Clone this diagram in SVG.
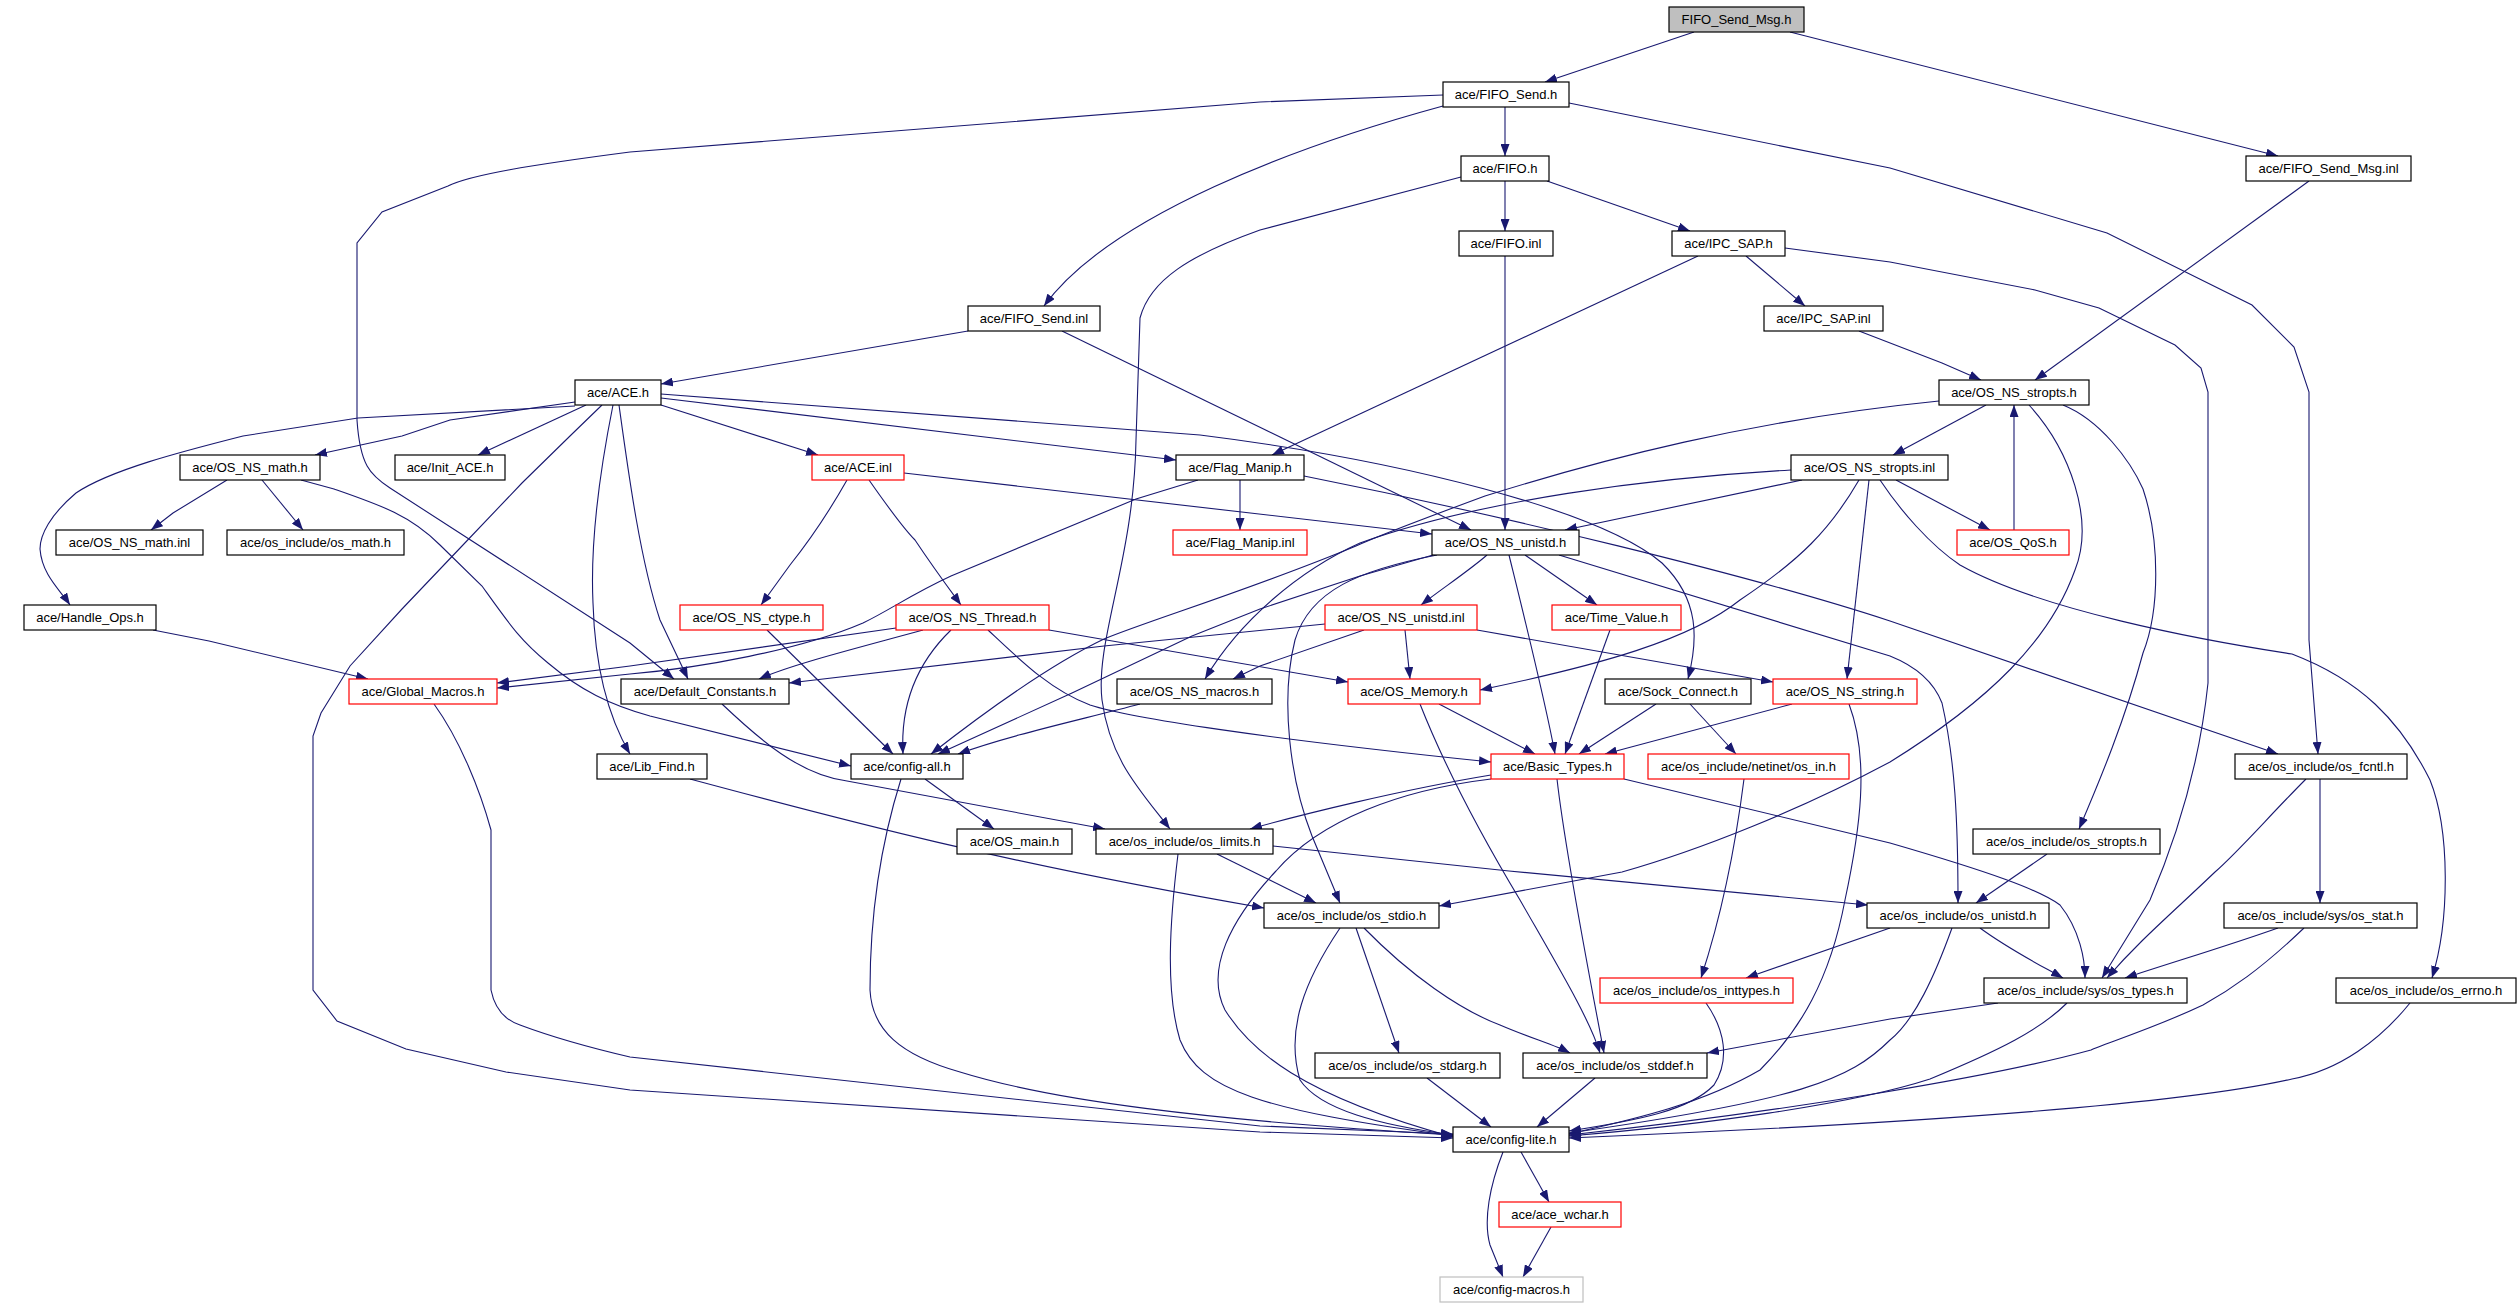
<svg xmlns="http://www.w3.org/2000/svg" width="2520" height="1307" viewBox="0 0 2520 1307">
<defs>
<marker id="a" markerWidth="12" markerHeight="9" refX="12" refY="4.5" orient="auto" markerUnits="userSpaceOnUse"><path d="M0,0 L12,4.5 L0,9 z" fill="#191970"/></marker>
<style>
.e path{fill:none;stroke:#191970;stroke-width:1.1;marker-end:url(#a)}
.n rect{fill:#fff;stroke:#000;stroke-width:1.2}
.n.r rect{stroke:#f00}
.n.g rect{stroke:#bfbfbf}
.n.root rect{fill:#bfbfbf}
.n text{font-family:"Liberation Sans",Arial,sans-serif;font-size:13px;text-anchor:middle;fill:#000}
</style>
</defs>
<rect width="2520" height="1307" fill="#fff"/>
<g class="e" id="edges">
<path d="M1694,32 L1545,82"/>
<path d="M1790,32 L2278,156"/>
<path d="M1505,107 L1505,156"/>
<path d="M1443,106 C1300,145 1110,215 1044,306"/>
<path d="M1443,95 L1260,102 L630,152 C530,165 470,175 448,186 L382,212 L357,243 L357,420 C360,465 370,475 390,488 L630,643 L674,679"/>
<path d="M1569,103 L1890,168 L2107,233 L2252,305 L2294,347 L2309,392 L2309,640 L2318,754"/>
<path d="M1505,181 L1505,231"/>
<path d="M1547,181 L1690,231"/>
<path d="M1461,177 L1260,230 C1190,255 1150,280 1140,318 L1136,440 C1134,560 1095,640 1102,700 C1110,760 1140,790 1170,829"/>
<path d="M1505,256 L1505,530"/>
<path d="M1746,256 L1805,306"/>
<path d="M1698,256 L1272,455"/>
<path d="M1785,248 L1890,262 L2035,290 L2099,308 L2175,345 L2201,368 L2208,392 L2208,683 C2200,760 2180,830 2150,900 L2102,978"/>
<path d="M1859,331 L1942,363 L1981,380"/>
<path d="M2309,181 L2035,380"/>
<path d="M968,331 L661,384"/>
<path d="M1062,331 L1471,530"/>
<path d="M575,402 L450,420 L402,436 L315,455"/>
<path d="M586,405 L478,455"/>
<path d="M661,405 L818,455"/>
<path d="M661,398 L1176,460"/>
<path d="M575,406 L358,418 L243,436 C180,452 110,470 76,493 C50,515 40,535 40,549 C42,575 60,590 70,605"/>
<path d="M602,405 L570,436 L522,483 L462,546 L402,609 L350,666 L321,713 L313,736 L313,990 L337,1021 L406,1049 L506,1072 L630,1090 L1260,1132 L1453,1138"/>
<path d="M613,405 C600,470 590,540 593,603 C595,670 610,720 630,754"/>
<path d="M619,405 C628,470 640,560 660,620 L688,679"/>
<path d="M661,394 L1200,435 C1400,460 1600,510 1662,563 C1700,600 1698,640 1688,679"/>
<path d="M227,480 L173,513 L151,530"/>
<path d="M262,480 L303,530"/>
<path d="M301,480 L334,489 C380,505 410,515 440,545 L482,586 C510,625 520,640 548,663 C580,690 610,705 650,716 L851,766"/>
<path d="M153,630 L209,641 L368,679"/>
<path d="M847,480 C830,510 810,540 790,565 L761,605"/>
<path d="M869,480 C890,510 905,530 915,540 C935,570 950,590 961,605"/>
<path d="M904,473 L1432,534"/>
<path d="M1240,480 L1240,530"/>
<path d="M1198,480 L1136,499 C1050,535 990,560 951,576 C910,595 890,610 863,623 C800,650 700,668 630,674 L497,688"/>
<path d="M1304,476 C1500,515 1750,575 1890,621 L2278,754"/>
<path d="M1487,555 C1470,570 1440,590 1421,605"/>
<path d="M1525,555 L1597,605"/>
<path d="M1509,555 C1525,620 1545,700 1555,754"/>
<path d="M1559,555 L1890,656 C1920,668 1935,685 1942,703 C1955,760 1958,820 1958,903"/>
<path d="M1437,555 C1360,570 1310,590 1295,640 C1280,700 1290,780 1312,836 L1340,903"/>
<path d="M1433,555 L1360,576 L1260,609 L1192,636 L1072,693 L938,754"/>
<path d="M1939,401 C1750,420 1600,460 1485,496 C1420,520 1380,535 1356,546 C1250,590 1150,620 1104,639 C1060,660 1000,700 931,754"/>
<path d="M767,630 L893,754"/>
<path d="M951,630 C920,660 900,700 903,754"/>
<path d="M1140,704 C1080,720 1010,735 958,754"/>
<path d="M896,628 L630,666 L497,683"/>
<path d="M923,630 C850,650 790,665 759,679"/>
<path d="M1049,630 L1348,682"/>
<path d="M988,630 C1020,660 1050,690 1090,705 C1130,718 1260,738 1491,762"/>
<path d="M1325,624 L1104,646 L789,683"/>
<path d="M1364,630 L1260,666 L1233,679"/>
<path d="M1405,630 L1410,679"/>
<path d="M1477,630 L1773,682"/>
<path d="M1610,630 L1565,754"/>
<path d="M1439,704 L1535,754"/>
<path d="M1420,704 C1450,780 1490,850 1520,900 C1560,970 1590,1020 1600,1053"/>
<path d="M1656,704 L1579,754"/>
<path d="M1690,704 L1736,754"/>
<path d="M1792,704 L1605,754"/>
<path d="M1849,704 C1870,760 1860,830 1845,900 C1830,980 1800,1030 1760,1070 C1700,1105 1630,1120 1569,1134"/>
<path d="M1491,775 C1400,790 1300,815 1250,829"/>
<path d="M1491,779 C1400,790 1320,820 1276,871 C1230,920 1205,970 1225,1010 C1250,1050 1300,1095 1453,1137"/>
<path d="M1557,779 C1565,850 1590,980 1604,1053"/>
<path d="M1624,779 L1890,843 C1990,872 2040,890 2060,905 C2080,930 2085,960 2085,978"/>
<path d="M1744,779 C1735,850 1720,920 1701,978"/>
<path d="M1986,405 L1893,455"/>
<path d="M2029,405 C2070,450 2095,520 2075,570 C2050,640 1990,700 1890,762 C1800,810 1700,850 1622,872 L1439,906"/>
<path d="M2063,405 C2100,420 2130,460 2143,489 C2160,540 2160,610 2143,653 C2125,720 2100,780 2079,829"/>
<path d="M2014,530 L2014,405"/>
<path d="M1802,480 L1565,530"/>
<path d="M1791,470 C1650,478 1480,500 1360,543 C1300,570 1240,620 1205,679"/>
<path d="M1859,480 C1830,530 1800,560 1740,600 C1690,640 1600,665 1480,690"/>
<path d="M1869,480 L1847,679"/>
<path d="M1896,480 L1990,530"/>
<path d="M1880,480 C1900,510 1930,545 1960,565 C2040,610 2200,640 2292,654 C2360,680 2400,720 2430,780 C2450,830 2450,920 2432,978"/>
<path d="M722,704 C760,740 800,775 847,781 C950,800 1030,815 1105,829"/>
<path d="M690,779 C850,822 1000,862 1264,908"/>
<path d="M925,779 L994,829"/>
<path d="M901,779 C885,830 870,900 870,990 C872,1030 900,1055 960,1072 C1050,1100 1200,1120 1453,1135"/>
<path d="M1217,854 L1316,903"/>
<path d="M1178,854 C1170,920 1165,990 1180,1040 C1200,1090 1260,1110 1453,1136"/>
<path d="M1273,846 L1509,871 L1868,905"/>
<path d="M2047,854 L1976,903"/>
<path d="M2320,779 L2320,903"/>
<path d="M2306,779 C2270,815 2240,850 2215,872 C2170,915 2140,940 2107,978"/>
<path d="M1340,928 C1305,980 1285,1030 1300,1080 C1320,1110 1380,1125 1453,1135"/>
<path d="M1356,928 L1399,1053"/>
<path d="M1364,928 C1410,975 1460,1010 1500,1025 C1530,1038 1555,1045 1570,1053"/>
<path d="M1890,928 L1746,978"/>
<path d="M1980,928 C2010,950 2040,965 2063,978"/>
<path d="M1952,928 C1935,975 1915,1020 1890,1040 C1850,1080 1800,1100 1569,1133"/>
<path d="M2304,928 C2260,970 2230,990 2203,1005 C2150,1030 2100,1045 2091,1050 C2000,1075 1800,1110 1569,1135"/>
<path d="M2278,928 C2230,945 2180,960 2125,978"/>
<path d="M2067,1003 C2040,1030 2000,1050 1930,1079 C1850,1105 1700,1125 1569,1136"/>
<path d="M1998,1003 L1890,1019 L1707,1053"/>
<path d="M2410,1003 C2380,1040 2340,1070 2292,1079 C2200,1100 2000,1120 1569,1138"/>
<path d="M1706,1003 C1725,1030 1730,1060 1714,1085 C1690,1110 1640,1120 1569,1131"/>
<path d="M1427,1078 L1491,1127"/>
<path d="M1595,1078 L1537,1127"/>
<path d="M1521,1152 L1549,1202"/>
<path d="M1503,1152 C1490,1185 1483,1220 1490,1245 L1503,1277"/>
<path d="M1551,1227 L1523,1277"/>
<path d="M434,704 C460,740 480,790 491,830 L491,990 C495,1010 505,1020 520,1025 C560,1040 600,1050 630,1057 L1260,1126 L1453,1134"/>
</g>
<g id="n0" class="n root"><rect x="1669" y="7" width="135" height="25"/><text x="1736.5" y="24">FIFO_Send_Msg.h</text></g>
<g id="n1" class="n"><rect x="1443" y="82" width="126" height="25"/><text x="1506" y="99">ace/FIFO_Send.h</text></g>
<g id="n2" class="n"><rect x="1461" y="156" width="88" height="25"/><text x="1505" y="173">ace/FIFO.h</text></g>
<g id="n3" class="n"><rect x="2246" y="156" width="165" height="25"/><text x="2328.5" y="173">ace/FIFO_Send_Msg.inl</text></g>
<g id="n4" class="n"><rect x="1459" y="231" width="94" height="25"/><text x="1506" y="248">ace/FIFO.inl</text></g>
<g id="n5" class="n"><rect x="1672" y="231" width="113" height="25"/><text x="1728.5" y="248">ace/IPC_SAP.h</text></g>
<g id="n6" class="n"><rect x="968" y="306" width="132" height="25"/><text x="1034" y="323">ace/FIFO_Send.inl</text></g>
<g id="n7" class="n"><rect x="1764" y="306" width="119" height="25"/><text x="1823.5" y="323">ace/IPC_SAP.inl</text></g>
<g id="n8" class="n"><rect x="575" y="380" width="86" height="25"/><text x="618" y="397">ace/ACE.h</text></g>
<g id="n9" class="n"><rect x="1939" y="380" width="150" height="25"/><text x="2014" y="397">ace/OS_NS_stropts.h</text></g>
<g id="n10" class="n"><rect x="180" y="455" width="140" height="25"/><text x="250" y="472">ace/OS_NS_math.h</text></g>
<g id="n11" class="n"><rect x="395" y="455" width="110" height="25"/><text x="450" y="472">ace/Init_ACE.h</text></g>
<g id="n12" class="n r"><rect x="812" y="455" width="92" height="25"/><text x="858" y="472">ace/ACE.inl</text></g>
<g id="n13" class="n"><rect x="1176" y="455" width="128" height="25"/><text x="1240" y="472">ace/Flag_Manip.h</text></g>
<g id="n14" class="n"><rect x="1791" y="455" width="157" height="25"/><text x="1869.5" y="472">ace/OS_NS_stropts.inl</text></g>
<g id="n15" class="n"><rect x="56" y="530" width="147" height="25"/><text x="129.5" y="547">ace/OS_NS_math.inl</text></g>
<g id="n16" class="n"><rect x="227" y="530" width="177" height="25"/><text x="315.5" y="547">ace/os_include/os_math.h</text></g>
<g id="n17" class="n r"><rect x="1173" y="530" width="134" height="25"/><text x="1240" y="547">ace/Flag_Manip.inl</text></g>
<g id="n18" class="n"><rect x="1432" y="530" width="147" height="25"/><text x="1505.5" y="547">ace/OS_NS_unistd.h</text></g>
<g id="n19" class="n r"><rect x="1957" y="530" width="112" height="25"/><text x="2013" y="547">ace/OS_QoS.h</text></g>
<g id="n20" class="n"><rect x="24" y="605" width="132" height="25"/><text x="90" y="622">ace/Handle_Ops.h</text></g>
<g id="n21" class="n r"><rect x="680" y="605" width="143" height="25"/><text x="751.5" y="622">ace/OS_NS_ctype.h</text></g>
<g id="n22" class="n r"><rect x="896" y="605" width="153" height="25"/><text x="972.5" y="622">ace/OS_NS_Thread.h</text></g>
<g id="n23" class="n r"><rect x="1325" y="605" width="152" height="25"/><text x="1401" y="622">ace/OS_NS_unistd.inl</text></g>
<g id="n24" class="n r"><rect x="1552" y="605" width="129" height="25"/><text x="1616.5" y="622">ace/Time_Value.h</text></g>
<g id="n25" class="n r"><rect x="349" y="679" width="148" height="25"/><text x="423" y="696">ace/Global_Macros.h</text></g>
<g id="n26" class="n"><rect x="621" y="679" width="168" height="25"/><text x="705" y="696">ace/Default_Constants.h</text></g>
<g id="n27" class="n"><rect x="1117" y="679" width="155" height="25"/><text x="1194.5" y="696">ace/OS_NS_macros.h</text></g>
<g id="n28" class="n r"><rect x="1348" y="679" width="132" height="25"/><text x="1414" y="696">ace/OS_Memory.h</text></g>
<g id="n29" class="n"><rect x="1605" y="679" width="146" height="25"/><text x="1678" y="696">ace/Sock_Connect.h</text></g>
<g id="n30" class="n r"><rect x="1773" y="679" width="144" height="25"/><text x="1845" y="696">ace/OS_NS_string.h</text></g>
<g id="n31" class="n"><rect x="597" y="754" width="110" height="25"/><text x="652" y="771">ace/Lib_Find.h</text></g>
<g id="n32" class="n"><rect x="851" y="754" width="112" height="25"/><text x="907" y="771">ace/config-all.h</text></g>
<g id="n33" class="n r"><rect x="1491" y="754" width="133" height="25"/><text x="1557.5" y="771">ace/Basic_Types.h</text></g>
<g id="n34" class="n r"><rect x="1648" y="754" width="201" height="25"/><text x="1748.5" y="771">ace/os_include/netinet/os_in.h</text></g>
<g id="n35" class="n"><rect x="2235" y="754" width="172" height="25"/><text x="2321" y="771">ace/os_include/os_fcntl.h</text></g>
<g id="n36" class="n"><rect x="957" y="829" width="115" height="25"/><text x="1014.5" y="846">ace/OS_main.h</text></g>
<g id="n37" class="n"><rect x="1096" y="829" width="177" height="25"/><text x="1184.5" y="846">ace/os_include/os_limits.h</text></g>
<g id="n38" class="n"><rect x="1973" y="829" width="187" height="25"/><text x="2066.5" y="846">ace/os_include/os_stropts.h</text></g>
<g id="n39" class="n"><rect x="1264" y="903" width="175" height="25"/><text x="1351.5" y="920">ace/os_include/os_stdio.h</text></g>
<g id="n40" class="n"><rect x="1867" y="903" width="182" height="25"/><text x="1958" y="920">ace/os_include/os_unistd.h</text></g>
<g id="n41" class="n"><rect x="2224" y="903" width="193" height="25"/><text x="2320.5" y="920">ace/os_include/sys/os_stat.h</text></g>
<g id="n42" class="n r"><rect x="1600" y="978" width="193" height="25"/><text x="1696.5" y="995">ace/os_include/os_inttypes.h</text></g>
<g id="n43" class="n"><rect x="1984" y="978" width="203" height="25"/><text x="2085.5" y="995">ace/os_include/sys/os_types.h</text></g>
<g id="n44" class="n"><rect x="2336" y="978" width="180" height="25"/><text x="2426" y="995">ace/os_include/os_errno.h</text></g>
<g id="n45" class="n"><rect x="1315" y="1053" width="185" height="25"/><text x="1407.5" y="1070">ace/os_include/os_stdarg.h</text></g>
<g id="n46" class="n"><rect x="1523" y="1053" width="184" height="25"/><text x="1615" y="1070">ace/os_include/os_stddef.h</text></g>
<g id="n47" class="n"><rect x="1453" y="1127" width="116" height="25"/><text x="1511" y="1144">ace/config-lite.h</text></g>
<g id="n48" class="n r"><rect x="1499" y="1202" width="122" height="25"/><text x="1560" y="1219">ace/ace_wchar.h</text></g>
<g id="n49" class="n g"><rect x="1440" y="1277" width="143" height="25"/><text x="1511.5" y="1294">ace/config-macros.h</text></g>
</svg>
